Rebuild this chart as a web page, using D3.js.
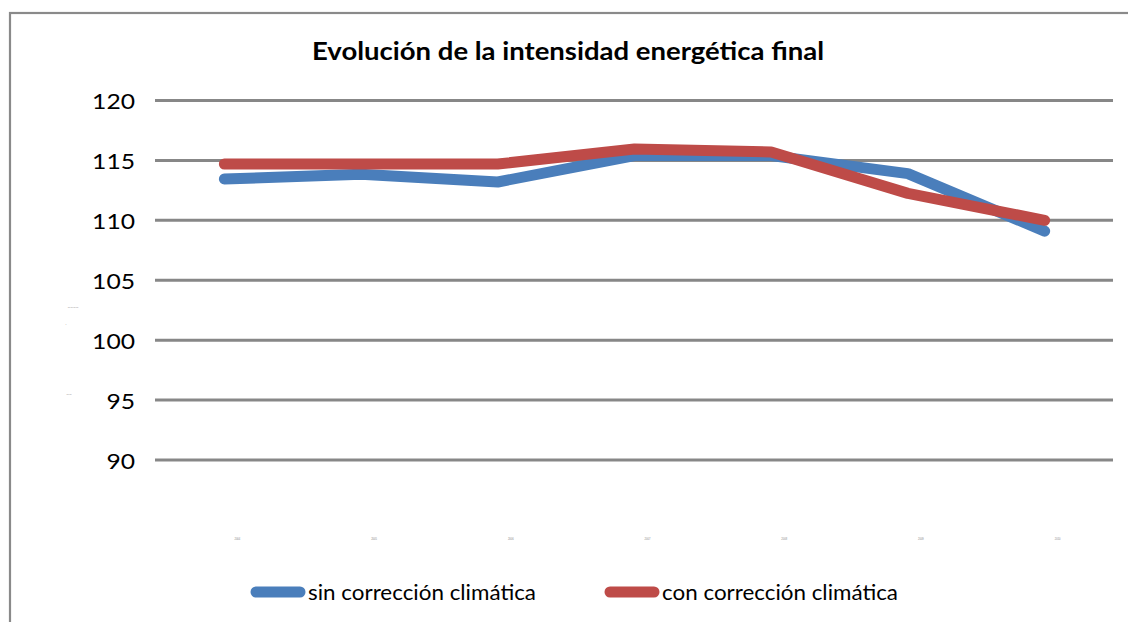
<!DOCTYPE html>
<html>
<head>
<meta charset="utf-8">
<script src="https://cdn.jsdelivr.net/npm/d3@7"></script>
<style>
  body { margin: 0; background: #fff; }
  svg { display: block; font-family: Lato, "Open Sans", sans-serif; }
</style>
</head>
<body>
<svg id="chart" width="1128" height="622"></svg>
<script>
// --- data ---
const categories = ["2004", "2005", "2006", "2007", "2008", "2009", "2010"];
const sinCorreccion = [113.45, 113.85, 113.2, 115.4, 115.4, 113.9, 109.1];
const conCorreccion = [114.7, 114.7, 114.7, 115.95, 115.7, 112.25, 110.0];
const yTicks = [90, 95, 100, 105, 110, 115, 120];
const seriesNames = ["sin corrección climática", "con corrección climática"];
const seriesColors = ["#4a7ebb", "#be4b48"];

const svg = d3.select("#chart");

// outer chart border (runs off right/bottom edge)
svg.append("rect").attr("x", 10).attr("y", 13).attr("width", 1130).attr("height", 620)
  .attr("fill", "none").attr("stroke", "#8a8a8a").attr("stroke-width", 2.2);

// picture is stretched horizontally, so text widths are forced with textLength
svg.append("text").attr("x", 312).attr("y", 59.5)
  .attr("font-size", 24.5).attr("font-weight", "bold").attr("fill", "#000")
  .attr("textLength", 512).attr("lengthAdjust", "spacingAndGlyphs")
  .text("Evolución de la intensidad energética final");

const x = d3.scaleBand().domain(categories).range([156, 1113]);
const y = d3.scaleLinear().domain([90, 120]).range([460, 100.5]);

// gridlines
svg.append("g").selectAll("line").data(yTicks).join("line")
  .attr("x1", 155).attr("x2", 1113)
  .attr("y1", d => y(d)).attr("y2", d => y(d))
  .attr("stroke", "#878787").attr("stroke-width", 3);

// y axis labels
const yAxis = d3.axisLeft(y).tickValues(yTicks).tickSize(0).tickPadding(0);
const gy = svg.append("g").attr("transform", "translate(135,1)").call(yAxis);
gy.select(".domain").remove();
gy.selectAll("text").attr("font-size", 22).attr("fill", "#000")
  .attr("font-family", "Lato, 'Open Sans', sans-serif")
  .attr("textLength", d => String(d).length * 14.3).attr("lengthAdjust", "spacingAndGlyphs");

// x axis: tiny unreadable labels
const xAxis = d3.axisBottom(x).tickSize(0).tickPadding(0);
const gx = svg.append("g").attr("transform", "translate(13,540)").call(xAxis);
gx.select(".domain").remove();
gx.selectAll("text").attr("font-size", 2.6).attr("fill", "#888").attr("dy", 0);

// stray tiny marks at left
[[73, 309, "――――"], [66, 326, "·"], [69, 396, "――"]].forEach(([tx, ty, s]) => {
  svg.append("text").attr("x", tx).attr("y", ty).attr("text-anchor", "middle")
    .attr("font-size", 3.5).attr("fill", "#666").text(s);
});

// lines
const line = d3.line()
  .x((d, i) => x(categories[i]) + x.bandwidth() / 2)
  .y(d => y(d));

[sinCorreccion, conCorreccion].forEach((vals, k) => {
  svg.append("path").datum(vals).attr("d", line)
    .attr("fill", "none").attr("stroke", seriesColors[k]).attr("stroke-width", 11)
    .attr("stroke-linecap", "round").attr("stroke-linejoin", "round");
});

// legend
const legendX = [256, 610];
const legendLen = [228, 236];
seriesNames.forEach((name, k) => {
  const g = svg.append("g").attr("transform", `translate(${legendX[k]},592)`);
  g.append("line").attr("x1", 0).attr("x2", 44).attr("y1", 0).attr("y2", 0)
    .attr("stroke", seriesColors[k]).attr("stroke-width", 11).attr("stroke-linecap", "round");
  g.append("text").attr("x", 52).attr("y", 7.5).attr("font-size", 21).attr("fill", "#000")
    .attr("textLength", legendLen[k]).attr("lengthAdjust", "spacingAndGlyphs").text(name);
});
</script>
</body>
</html>
